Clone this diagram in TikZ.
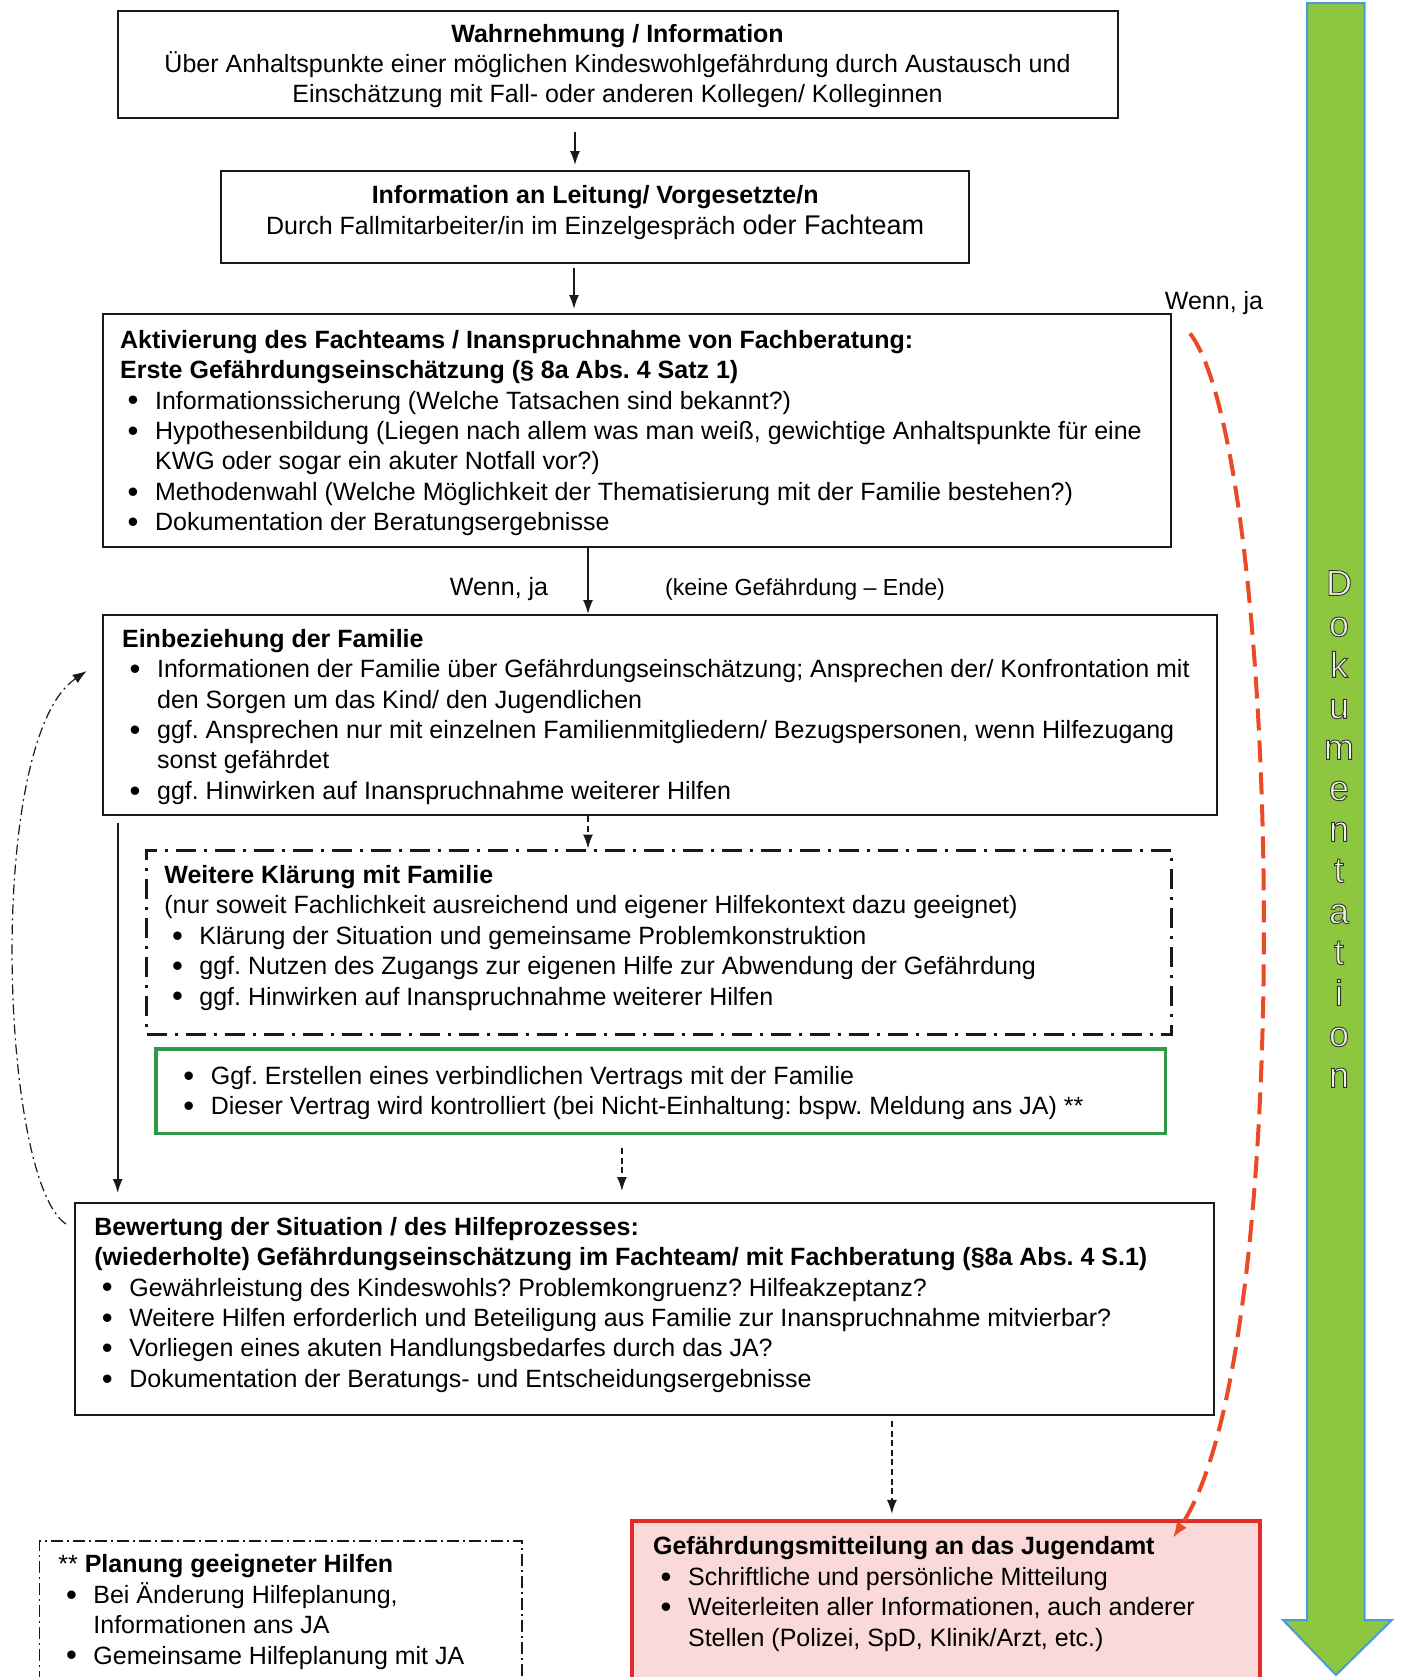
\documentclass[tikz,border=0pt]{standalone}
\usepackage{fontspec}
\setmainfont{Liberation Sans}
\frenchspacing
\definecolor{kwInk}{HTML}{1A1A1A}
\definecolor{kwLeaf}{HTML}{8DC63F}
\definecolor{kwSky}{HTML}{4A9BD8}
\definecolor{kwRed}{HTML}{E32B2B}
\definecolor{kwRose}{HTML}{F9DAD8}
\definecolor{kwMoss}{HTML}{2E9A45}
\definecolor{kwFlame}{HTML}{EA4A25}
\usetikzlibrary{arrows.meta,positioning,fit,calc}
\newcommand{\bpt}{\hspace*{3.8pt}\makebox[13.7pt][l]{\raisebox{-0.9pt}{\fontsize{15.5}{15}\selectfont\textbullet}}}
\newcommand{\bcont}{\hspace*{17.5pt}}

\begin{document}
\begin{tikzpicture}[x=0.5pt,y=-0.5pt,
  font=\fontsize{12.5}{15.2}\selectfont,
  box/.style={draw=kwInk,line width=1pt,inner sep=0pt},
  dashbox/.style={draw=kwInk,line width=1.5pt,inner sep=0pt,
                  dash pattern=on 10pt off 4pt on 1.5pt off 4pt},
  notebox/.style={draw=kwInk,line width=0.6pt,inner sep=0pt,
                  dash pattern=on 6pt off 2pt on 1pt off 2pt},
  greenbox/.style={draw=kwMoss,line width=1.6pt,inner sep=0pt},
  alertbox/.style={draw=kwRed,fill=kwRose,line width=1.8pt,inner sep=0pt},
  txt/.style={inner sep=0pt,anchor=north west,align=left},
  ctxt/.style={inner sep=0pt,anchor=north,align=center},
  arr/.style={-{Latex[length=7pt,width=5pt]},line width=0.8pt,draw=kwInk},
  darr/.style={arr,dash pattern=on 3pt off 1.8pt},
  loop/.style={arr,line width=0.6pt,dash pattern=on 5pt off 2pt on 1pt off 2pt},
  alert/.style={-{Latex[length=8pt,width=6pt]},draw=kwFlame,line width=2pt,
                dash pattern=on 11pt off 5pt}]
\useasboundingbox (0,0) rectangle (1402,1677);
\clip (0,0) rectangle (1402,1677);

% Dokumentation arrow, right edge
\draw[draw=kwSky,fill=kwLeaf,line width=1pt]
  (1307,3) -- (1364.5,3) -- (1364.5,1620) -- (1392,1620) -- (1336,1675)
  -- (1283,1620) -- (1307,1620) -- cycle;
\node[inner sep=0pt,align=center,text=kwInk,font=\fontsize{18}{20.5}\selectfont] (dok) at (1339,829)
  {\special{pdf:literal direct 2 Tr 0.45 w 0.93 0.96 0.85 rg 0.2 G}D\\o\\k\\u\\m\\e\\n\\t\\a\\t\\i\\o\\n\special{pdf:literal direct 0 Tr}};

% boxes
\node[box,fit={(117.6,10.7) (1117.5,117.6)}] (b1) {};
\node[box,fit={(221.4,171) (968.9,263)}] (b2) {};
\node[box,fit={(102.7,314.4) (1171,546.5)}] (b3) {};
\node[box,fit={(102.7,615) (1217,815)}] (b4) {};
\node[dashbox,fit={(146.5,850) (1171,1034)}] (b5) {};
\node[greenbox,fit={(156,1049) (1165.6,1133.6)}] (g) {};
\node[box,fit={(74.9,1203) (1214,1415)}] (b6) {};
\node[alertbox,fit={(632,1520.7) (1260,1700)}] (b7) {};
\node[notebox,fit={(39.6,1541) (522,1700)}] (b8) {};

% texts
\node[ctxt] (t1) at ($(b1.north)+(0,10.7)$)
  {\strut\textbf{Wahrnehmung / Information}\\
   Über Anhaltspunkte einer möglichen Kindeswohlgefährdung durch Austausch und\\
   Einschätzung mit Fall- oder anderen Kollegen/ Kolleginnen};
\node[ctxt] (t2) at ($(b2.north)+(0,12.2)$)
  {\strut\textbf{Information an Leitung/ Vorgesetzte/n}\\
   Durch Fallmitarbeiter/in im Einzelgespräch {\fontsize{13.5}{15.2}\selectfont oder Fachteam}};
\node[txt] (t3) at ($(b3.north west)+(18,13.3)$)
  {\strut\textbf{Aktivierung des Fachteams / Inanspruchnahme von Fachberatung:}\\
   \textbf{Erste Gefährdungseinschätzung (§ 8a Abs. 4 Satz 1)}\\
   \bpt Informationssicherung (Welche Tatsachen sind bekannt?)\\
   \bpt Hypothesenbildung (Liegen nach allem was man weiß, gewichtige Anhaltspunkte für eine\\
   \bcont KWG oder sogar ein akuter Notfall vor?)\\
   \bpt Methodenwahl (Welche Möglichkeit der Thematisierung mit der Familie bestehen?)\\
   \bpt Dokumentation der Beratungsergebnisse};
\node[txt] (t4) at ($(b4.north west)+(20,11.7)$)
  {\strut\textbf{Einbeziehung der Familie}\\
   \bpt Informationen der Familie über Gefährdungseinschätzung; Ansprechen der/ Konfrontation mit\\
   \bcont den Sorgen um das Kind/ den Jugendlichen\\
   \bpt ggf. Ansprechen nur mit einzelnen Familienmitgliedern/ Bezugspersonen, wenn Hilfezugang\\
   \bcont sonst gefährdet\\
   \bpt ggf. Hinwirken auf Inanspruchnahme weiterer Hilfen};
\node[txt] (t5) at ($(b5.north west)+(19,13.4)$)
  {\strut\textbf{Weitere Klärung mit Familie}\\
   (nur soweit Fachlichkeit ausreichend und eigener Hilfekontext dazu geeignet)\\
   \bpt Klärung der Situation und gemeinsame Problemkonstruktion\\
   \bpt ggf. Nutzen des Zugangs zur eigenen Hilfe zur Abwendung der Gefährdung\\
   \bpt ggf. Hinwirken auf Inanspruchnahme weiterer Hilfen};
\node[txt] (tg) at ($(g.north west)+(21,15.4)$)
  {\strut\bpt Ggf. Erstellen eines verbindlichen Vertrags mit der Familie\\
   \bpt Dieser Vertrag wird kontrolliert (bei Nicht-Einhaltung: bspw. Meldung ans JA) **};
\node[txt] (t6) at ($(b6.north west)+(20,11.7)$)
  {\strut\textbf{Bewertung der Situation / des Hilfeprozesses:}\\
   \textbf{(wiederholte) Gefährdungseinschätzung im Fachteam/ mit Fachberatung (§8a Abs. 4 S.1)}\\
   \bpt Gewährleistung des Kindeswohls? Problemkongruenz? Hilfeakzeptanz?\\
   \bpt Weitere Hilfen erforderlich und Beteiligung aus Familie zur Inanspruchnahme mitvierbar?\\
   \bpt Vorliegen eines akuten Handlungsbedarfes durch das JA?\\
   \bpt Dokumentation der Beratungs- und Entscheidungsergebnisse};
\node[txt] (t7) at ($(b7.north west)+(22.5,14.2)$)
  {\strut\textbf{Gefährdungsmitteilung an das Jugendamt}\\
   \bpt Schriftliche und persönliche Mitteilung\\
   \bpt Weiterleiten aller Informationen, auch anderer\\
   \bcont Stellen (Polizei, SpD, Klinik/Arzt, etc.)};
\node[txt] (t8) at ($(b8.north west)+(19,10.7)$)
  {\strut** \textbf{Planung geeigneter Hilfen}\\
   \bpt Bei Änderung Hilfeplanung,\\
   \bcont Informationen ans JA\\
   \bpt Gemeinsame Hilfeplanung mit JA};

% labels
\node[inner sep=0pt] (wj1) at (1214,302.6) {Wenn, ja};
\node[inner sep=0pt] (wj2) at (499,589) {Wenn, ja};
\node[inner sep=0pt,font=\fontsize{11.6}{14}\selectfont] (ende) at (805,589) {(keine Gefährdung – Ende)};

% connectors
\draw[arr,shorten >=2.5pt] ($(b1.south west)+(458.4,13)$) coordinate (a1) -- (a1 |- b2.north);
\draw[arr,shorten >=2.2pt] ($(b2.south west)+(353.6,4)$) coordinate (a2) -- (a2 |- b3.north);
\draw[arr] ($(b3.south west)+(486.3,0)$) coordinate (a3) -- (a3 |- b4.north);
\draw[darr] ($(b4.south west)+(486.3,0)$) coordinate (a4) -- (a4 |- b5.north);
\draw[arr,shorten >=4.5pt] ($(b4.south west)+(16,7)$) coordinate (a5) -- (a5 |- b6.north);
\draw[darr,shorten >=5.5pt] ($(g.south west)+(467.5,13)$) coordinate (a6) -- (a6 |- b6.north);
\draw[darr,shorten >=2.5pt] ($(b6.south west)+(818,5)$) coordinate (a7) -- (a7 |- b7.north);
% back to the family
\draw[loop] ($(b6.north west)+(-8,22)$) coordinate (l1)
  .. controls (0,1180) and (-15,740) .. ($(b4.north west)+(-15,57)$) coordinate (l2);
% direct report
\draw[alert] ($(b3.north east)+(18,20)$) coordinate (r1)
  .. controls (1280,450) and (1300,1350) .. ($(b7.north east)+(-89,19)$) coordinate (r2);
\end{tikzpicture}
\end{document}
